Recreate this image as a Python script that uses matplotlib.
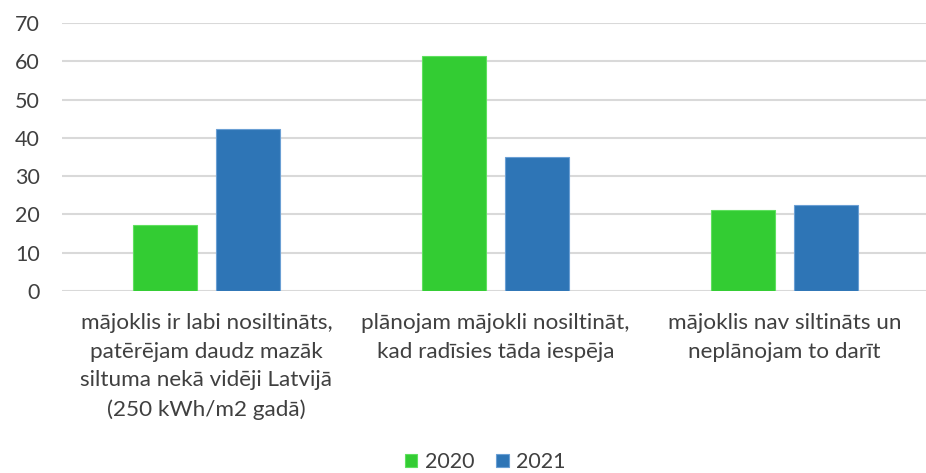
import numpy as np
import matplotlib.pyplot as plt

plt.rcParams['font.family'] = ['Lato', 'DejaVu Sans']

categories = ['mājoklis ir labi nosiltināts,\npatērējam daudz mazāk\nsiltuma nekā vidēji Latvijā\n(250 kWh/m2 gadā)',
              'plānojam mājokli nosiltināt,\nkad radīsies tāda iespēja',
              'mājoklis nav siltināts un\nneplānojam to darīt']
v2020 = [17.2, 61.4, 21.1]
v2021 = [42.2, 34.9, 22.5]
years = ['2020', '2021']
colors = ['#33cc33', '#2e75b6']
txt = '#404040'

fig = plt.figure(figsize=(9.26, 4.73), dpi=100)
ax = fig.add_axes([62/926, 1-291/473, 867/926, (291-23)/473])

x = np.arange(len(categories))
w = 0.222
ax.bar(x - 0.143, v2020, w, color=colors[0], edgecolor='#5fe05f', linewidth=0.8, label=years[0], zorder=3)
ax.bar(x + 0.143, v2021, w, color=colors[1], edgecolor='#6a9fd4', linewidth=0.8, label=years[1], zorder=3)

ax.set_xlim(-0.5, 2.5)
ax.set_ylim(0, 70)
ax.set_yticks(range(0, 71, 10))
ax.yaxis.grid(True, color='#d9d9d9', linewidth=1.5, zorder=0)
for s in ax.spines.values():
    s.set_visible(False)
ax.tick_params(axis='y', length=0, pad=16, labelsize=15.5, labelcolor=txt)
ax.tick_params(axis='x', length=0)
ax.set_xticks(x)
ax.set_xticklabels([])
for i, c in enumerate(categories):
    ax.text(x[i], -5.8, c, ha='center', va='top', fontsize=16.2, color=txt,
            linespacing=1.54)

leg = fig.legend(loc='center', bbox_to_anchor=(0.524, 1-462/473), ncol=2, frameon=False,
                 fontsize=15.5, handlelength=0.6, handleheight=0.6, handletextpad=0.35,
                 columnspacing=1.0)
for t in leg.get_texts():
    t.set_color(txt)

fig.savefig('out.png', dpi=100)
